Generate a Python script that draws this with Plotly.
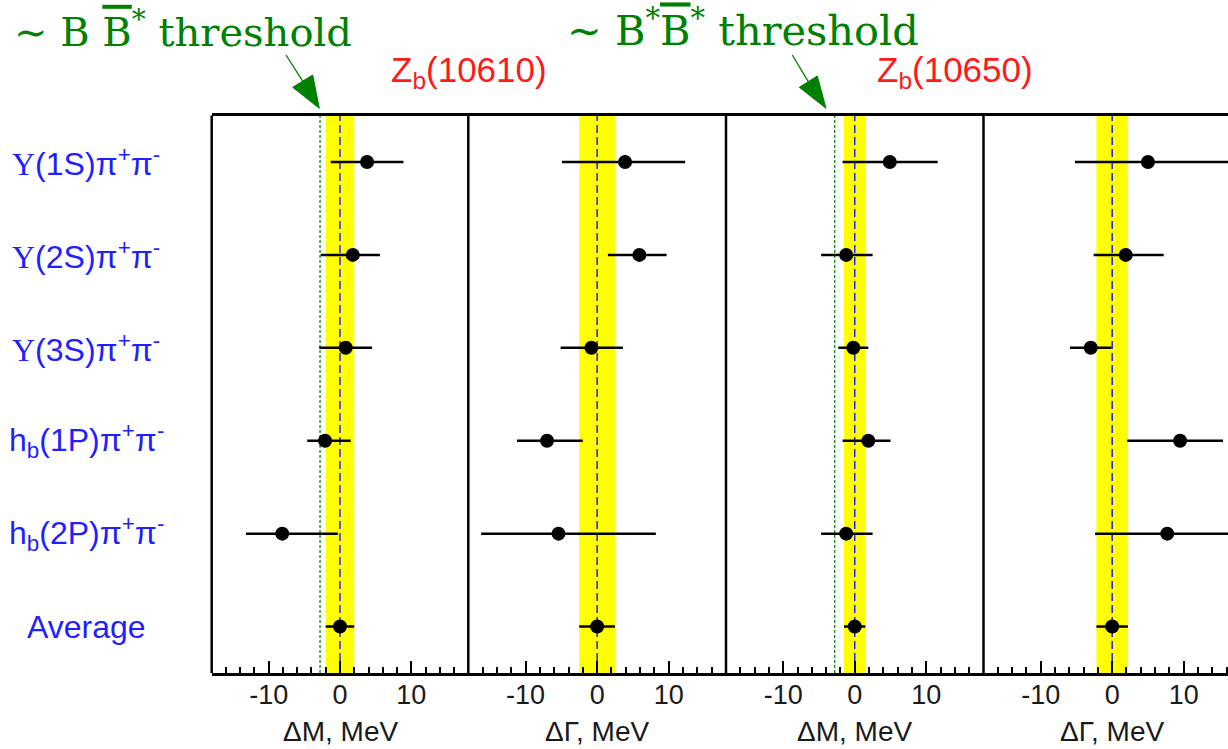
import plotly.graph_objects as go

W, H = 1228, 749

# ---------------- data ----------------
channels = [
    '<span style="font-family:Liberation Serif">Υ</span>(1S)π<sup>+</sup>π<sup>-</sup>',
    '<span style="font-family:Liberation Serif">Υ</span>(2S)π<sup>+</sup>π<sup>-</sup>',
    '<span style="font-family:Liberation Serif">Υ</span>(3S)π<sup>+</sup>π<sup>-</sup>',
    'h<sub>b</sub>(1P)π<sup>+</sup>π<sup>-</sup>',
    'h<sub>b</sub>(2P)π<sup>+</sup>π<sup>-</sup>',
    'Average',
]
row_pos = [6, 5, 4, 3, 2, 1]

dm_10610 = [3.8, 1.8, 0.8, -2.1, -8.1, 0.0]
dm_10610_lo = [5.1, 4.5, 3.7, 2.5, 5.1, 2.0]
dm_10610_hi = [5.1, 3.8, 3.7, 3.6, 7.8, 2.0]

dg_10610 = [3.9, 5.9, -0.8, -7.0, -5.4, 0.0]
dg_10610_lo = [8.8, 4.4, 4.3, 4.2, 10.8, 2.5]
dg_10610_hi = [8.4, 3.8, 4.4, 5.0, 13.6, 2.5]

dm_10650 = [4.9, -1.2, -0.2, 1.9, -1.2, 0.0]
dm_10650_lo = [6.6, 3.5, 2.1, 3.6, 3.5, 1.5]
dm_10650_hi = [6.7, 3.7, 2.1, 3.1, 3.7, 1.5]

dg_10650 = [5.0, 1.9, -3.0, 9.5, 7.7, 0.0]
dg_10650_lo = [10.2, 4.5, 2.9, 7.4, 10.1, 2.2]
dg_10650_hi = [12.0, 5.3, 2.9, 6.0, 10.0, 2.2]

band_halfwidth = [2.0, 2.5, 1.5, 2.2]        # yellow average bands
threshold = [-2.8, None, -2.8, None]          # green dotted threshold lines
axis_titles = ["ΔM, MeV", "ΔΓ, MeV", "ΔM, MeV", "ΔΓ, MeV"]
tick_vals = [-10, 0, 10]
tick_text = ["-10", "0", "10"]

panels = [
    (dm_10610, dm_10610_lo, dm_10610_hi),
    (dg_10610, dg_10610_lo, dg_10610_hi),
    (dm_10650, dm_10650_lo, dm_10650_hi),
    (dg_10650, dg_10650_lo, dg_10650_hi),
]

# ---------------- layout helpers ----------------
def fx(px):
    return px / W

def fy(py):
    return 1 - py / H

edges = [211.7, 468.3, 726.0, 983.5, 1228.0]
x_ranges = [[-18, 18], [-18, 18], [-18, 18], [-18, 16.2]]
y_dom = [fy(673), fy(115.5)]

fig = go.Figure()
shapes = []
annotations = []

for i, (vals, lo, hi) in enumerate(panels):
    xa = "x" if i == 0 else f"x{i+1}"
    xkey = "xaxis" if i == 0 else f"xaxis{i+1}"
    fig.add_trace(go.Scatter(
        x=vals, y=row_pos, xaxis=xa, yaxis="y", mode="markers",
        marker=dict(size=14, color="black"),
        error_x=dict(type="data", symmetric=False, array=hi, arrayminus=lo,
                     width=0, thickness=2.5, color="black"),
        showlegend=False, hoverinfo="x+y",
    ))
    fig.layout[xkey] = dict(
        domain=[fx(edges[i]), fx(edges[i + 1])], range=x_ranges[i], anchor="y",
        tickmode="array", tickvals=tick_vals, ticktext=tick_text,
        ticks="inside", ticklen=12, tickwidth=2, tickcolor="black",
        minor=dict(tickmode="linear", tick0=0, dtick=2, ticks="inside",
                   ticklen=6, tickwidth=2, tickcolor="black"),
        showline=True, linewidth=2.5, linecolor="black", mirror=True,
        showgrid=False, zeroline=False,
        tickfont=dict(family="Liberation Sans", size=27, color="#1a1a1a"),
        ticklabelstandoff=-4,
        fixedrange=True,
    )
    # yellow band
    shapes.append(dict(type="rect", xref=xa, yref="y domain",
                       x0=-band_halfwidth[i], x1=band_halfwidth[i], y0=0, y1=1,
                       fillcolor="#ffff00", line=dict(width=0), layer="below"))
    # blue dashed zero line
    shapes.append(dict(type="line", xref=xa, yref="y domain", x0=0, x1=0, y0=0, y1=1,
                       line=dict(color="#2020ff", width=1.5, dash="8px,4px"), layer="below"))
    if threshold[i] is not None:
        shapes.append(dict(type="line", xref=xa, yref="y domain",
                           x0=threshold[i], x1=threshold[i], y0=0, y1=1,
                           line=dict(color="#008000", width=1.2, dash="3px,2px"), layer="below"))
    # left border of panel
    shapes.append(dict(type="line", xref=f"{xa} domain", yref="y domain",
                       x0=0, x1=0, y0=0, y1=1, line=dict(color="black", width=2.5)))
    # axis title
    annotations.append(dict(text=axis_titles[i], xref=f"{xa} domain", yref="paper",
                            x=0.5 if i < 3 else 0.5 * 257 / 244.5, y=fy(731),
                            showarrow=False, xanchor="center", yanchor="middle",
                            font=dict(family="Liberation Sans", size=28, color="#1a1a1a")))

fig.layout.yaxis = dict(domain=y_dom, range=[0.5, 6.5], visible=False, fixedrange=True)

# row labels
for lab, yv in zip(channels, row_pos):
    annotations.append(dict(text=lab, xref="paper", yref="y", x=fx(86), y=yv,
                            showarrow=False, xanchor="center", yanchor="middle",
                            font=dict(family="Liberation Sans", size=32, color="#1f1fff")))

# resonance titles
for txt, cx in [("Z<sub>b</sub>(10610)", 469), ("Z<sub>b</sub>(10650)", 955)]:
    annotations.append(dict(text=txt, xref="paper", yref="paper", x=fx(cx), y=fy(72),
                            showarrow=False, xanchor="center", yanchor="middle",
                            font=dict(family="Liberation Sans", size=35, color="#ff1a1a")))

# threshold labels
bbar = '<span style="text-decoration:overline">B</span>'
for txt, x0, cy, fs in [("∼ B " + bbar + "<sup>*</sup> threshold", 12, 29, 40),
                        ("∼ B<sup>*</sup>" + bbar + "<sup>*</sup> threshold", 565, 28, 41.5)]:
    annotations.append(dict(text=txt, xref="paper", yref="paper", x=fx(x0), y=fy(cy),
                            showarrow=False, xanchor="left", yanchor="middle",
                            font=dict(family="DejaVu Serif", size=fs, color="#008000")))

# arrows (line + filled head)
for tail, head in [((286, 55), [(292.7, 87.3), (312.7, 75), (319.3, 108.3)]),
                   ((792.3, 55), [(799.3, 87.3), (817.3, 76), (826, 108.3)])]:
    mid = ((head[0][0] + head[1][0]) / 2, (head[0][1] + head[1][1]) / 2)
    shapes.append(dict(type="line", xref="paper", yref="paper",
                       x0=fx(tail[0]), y0=fy(tail[1]), x1=fx(mid[0]), y1=fy(mid[1]),
                       line=dict(color="#008000", width=1.3)))
    path = "M {} {} L {} {} L {} {} Z".format(*(v for p in head for v in (fx(p[0]), fy(p[1]))))
    shapes.append(dict(type="path", xref="paper", yref="paper", path=path,
                       fillcolor="#008000", line=dict(color="#008000", width=1)))

fig.update_layout(
    width=W, height=H, margin=dict(l=0, r=0, t=0, b=0),
    paper_bgcolor="white", plot_bgcolor="white",
    shapes=shapes, annotations=annotations, showlegend=False,
)

fig.write_html("out.html", config={"displayModeBar": False},
               post_script="document.body.style.margin='0';document.body.style.overflow='hidden';")
